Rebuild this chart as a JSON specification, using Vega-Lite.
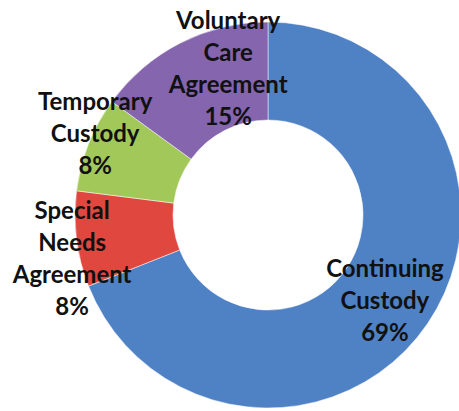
{
  "$schema": "https://vega.github.io/schema/vega-lite/v6.json",
  "autosize": {"type": "none"},
  "width": 382,
  "height": 392,
  "padding": {"left": 77, "right": 0, "top": 19, "bottom": 0},
  "background": "#ffffff",
  "view": {"stroke": null},
  "data": {
    "values": [
      {"category": "Continuing Custody", "label": "Continuing\nCustody\n69%", "value": 69, "rank": 1},
      {"category": "Special Needs Agreement", "label": "Special\nNeeds\nAgreement\n8%", "value": 8, "rank": 2},
      {"category": "Temporary Custody", "label": "Temporary\nCustody\n8%", "value": 8, "rank": 3},
      {"category": "Voluntary Care Agreement", "label": "Voluntary\nCare\nAgreement\n15%", "value": 15, "rank": 4}
    ]
  },
  "transform": [
    {"stack": "value", "groupby": [], "sort": [{"field": "rank", "order": "ascending"}], "as": ["start", "end"]},
    {"calculate": "(datum.start + datum.end) / 2", "as": "mid"}
  ],
  "layer": [
    {
      "mark": {"type": "arc", "outerRadius": 193, "innerRadius": 95, "stroke": "#ffffff", "strokeWidth": 0.5},
      "encoding": {
        "theta": {"field": "start", "type": "quantitative", "scale": {"domain": [0, 100]}},
        "theta2": {"field": "end"},
        "color": {
          "field": "category",
          "type": "nominal",
          "scale": {
            "domain": ["Continuing Custody", "Special Needs Agreement", "Temporary Custody", "Voluntary Care Agreement"],
            "range": ["#4f81c5", "#e0473f", "#a3c85a", "#8465ae"]
          },
          "legend": null
        }
      }
    },
    {
      "transform": [{"filter": "datum.rank == 1"}],
      "mark": {"type": "text", "radius": 145, "dx": -3, "dy": -27, "font": "Lato", "fontWeight": "bold", "fontSize": 24, "lineHeight": 32, "lineBreak": "\n", "align": "center", "baseline": "middle", "color": "#111111"},
      "encoding": {"theta": {"field": "mid", "type": "quantitative", "scale": {"domain": [0, 100]}}, "text": {"field": "label"}}
    },
    {
      "transform": [{"filter": "datum.rank == 2"}],
      "mark": {"type": "text", "radius": 145, "dx": -52, "dy": -21, "font": "Lato", "fontWeight": "bold", "fontSize": 24, "lineHeight": 32, "lineBreak": "\n", "align": "center", "baseline": "middle", "color": "#111111"},
      "encoding": {"theta": {"field": "mid", "type": "quantitative", "scale": {"domain": [0, 100]}}, "text": {"field": "label"}}
    },
    {
      "transform": [{"filter": "datum.rank == 3"}],
      "mark": {"type": "text", "radius": 145, "dx": -38, "dy": -59, "font": "Lato", "fontWeight": "bold", "fontSize": 24, "lineHeight": 32, "lineBreak": "\n", "align": "center", "baseline": "middle", "color": "#111111"},
      "encoding": {"theta": {"field": "mid", "type": "quantitative", "scale": {"domain": [0, 100]}}, "text": {"field": "label"}}
    },
    {
      "transform": [{"filter": "datum.rank == 4"}],
      "mark": {"type": "text", "radius": 145, "dx": 26, "dy": -64, "font": "Lato", "fontWeight": "bold", "fontSize": 24, "lineHeight": 32, "lineBreak": "\n", "align": "center", "baseline": "middle", "color": "#111111"},
      "encoding": {"theta": {"field": "mid", "type": "quantitative", "scale": {"domain": [0, 100]}}, "text": {"field": "label"}}
    }
  ]
}
